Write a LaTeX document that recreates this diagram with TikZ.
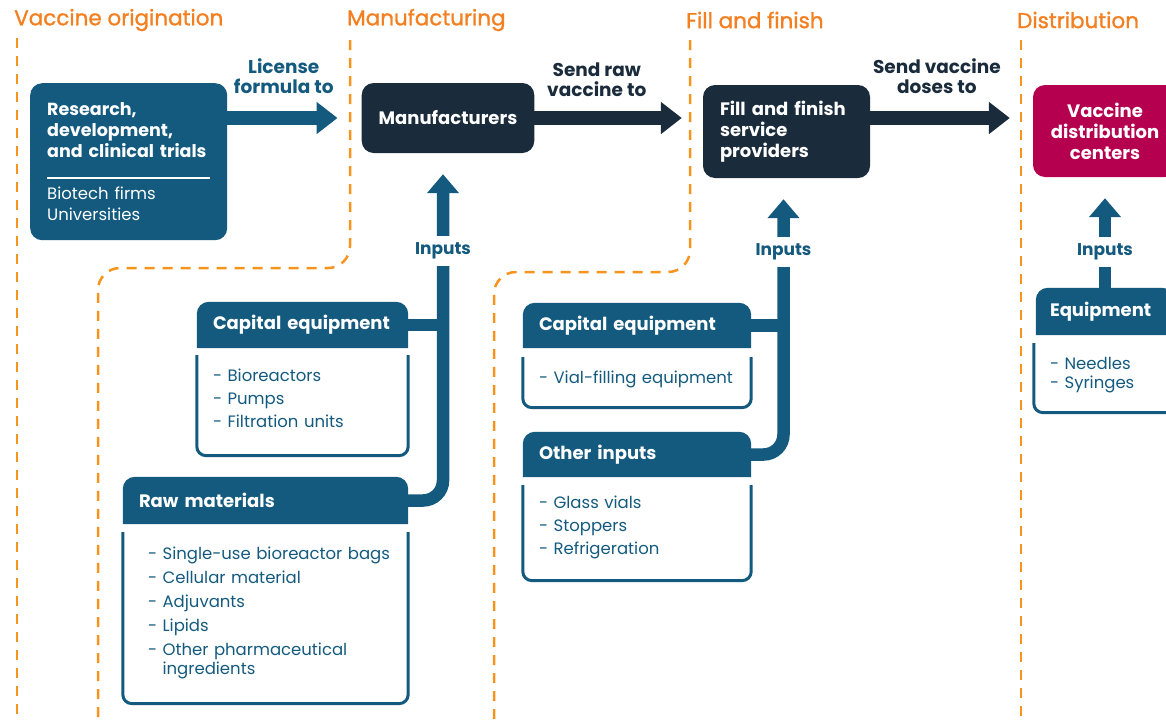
\documentclass[tikz,border=0pt]{standalone}
\usepackage{fontspec}
\setmainfont{Poppins}
\newfontfamily\stagefont[FakeBold=1.2]{Poppins}
\usetikzlibrary{arrows.meta,positioning}
\pgfdeclarelayer{background}
\pgfsetlayers{background,main}

\definecolor{vblue}{HTML}{145A7E}
\definecolor{vnavy}{HTML}{1A2B3B}
\definecolor{vred}{HTML}{B5004F}
\definecolor{vorange}{HTML}{F7941D}
\definecolor{vtitle}{HTML}{F47F20}

% extra depth on the last item line, lifts the list inside its box
\newcommand{\lift}[1]{\rule[-#1]{0pt}{#1}}

\tikzset{
  stage/.style    = {font=\stagefont\fontsize{21.5}{25}\selectfont, text=vtitle, anchor=west, inner sep=0pt},
  divider/.style  = {vorange, line width=2.5pt, dash pattern=on 10pt off 8pt, rounded corners=22pt},
  basic/.style    = {rounded corners=12pt, text=white, inner xsep=17pt, inner ysep=0pt,
                     font=\fontsize{18}{21}\selectfont\bfseries},
  origin/.style   = {basic, fill=vblue, align=left},
  actor/.style    = {basic, fill=vnavy},
  dest/.style     = {basic, fill=vred, align=center},
  inhead/.style   = {text=white, inner xsep=16pt, inner ysep=0pt, align=left, minimum height=46pt,
                     font=\fontsize{18}{21}\selectfont\bfseries},
  inbody/.style   = {text=vblue, inner xsep=16pt, inner ysep=0pt, align=left,
                     font=\fontsize{16.5}{23}\selectfont},
  outline/.style  = {vblue, line width=3pt, rounded corners=9pt},
  flowlabel/.style= {align=center, inner sep=0pt, font=\fontsize{18.5}{20}\selectfont\bfseries},
  inlabel/.style  = {fill=white, text=vblue, inner xsep=4pt, inner ysep=7pt,
                     font=\fontsize{17}{18}\selectfont\bfseries},
  flow/.style     = {line width=14pt, -{Triangle[width=31pt,length=21pt]}},
  feed/.style     = {vblue, line width=12.5pt, -{Triangle[width=31pt,length=19pt]},
                     shorten >=21pt, rounded corners=20pt},
  branch/.style   = {vblue, line width=12.5pt}
}

\begin{document}
\begin{tikzpicture}[x=1pt, y=-1pt]
\useasboundingbox (0,0) rectangle (1166,721);
\clip (0,0) rectangle (1166,721);

% dashed stage borders
\draw[divider] (17,38) -- (17,721);
\draw[divider] (350,40) -- (350,268) -- (98,268) -- (98,721);
\draw[divider] (690,40) -- (690,272) -- (494,272) -- (494,721);
\draw[divider] (1021,40) -- (1021,721);

% stage titles
\node[stage] (t1) at (14,20)   {Vaccine origination};
\node[stage] (t2) at (347,20)  {Manufacturing};
\node[stage] (t3) at (686,20)  {Fill and finish};
\node[stage] (t4) at (1017,20) {Distribution};

% main chain
\node[origin, anchor=north west, minimum width=193pt, minimum height=157pt, text width=163pt,
      font=\fontsize{17.5}{21}\selectfont\bfseries]
  (research) at (30,83) {Research,\\development,\\and clinical trials\\\rule{163pt}{1.6pt}\\\mdseries\fontsize{16.5}{21}\selectfont Biotech firms\\Universities};
\node[actor, minimum width=168pt, minimum height=70pt] (manuf) at (448,118) {Manufacturers};
\node[actor, minimum width=167pt, minimum height=93pt, text width=133pt, align=left]
  (fill) at (786.5,131.5) {Fill and finish\\service\\providers};
\node[dest, minimum width=144pt, minimum height=92pt] (distrib) at (1105,131) {Vaccine\\distribution\\centers};

\draw[flow, vblue, shorten >=24pt] (research.east |- manuf.west) -- (manuf.west)
  node[flowlabel, text=vblue, pos=.42, above=17pt] {License\\formula to};
\draw[flow, vnavy, shorten >=21pt] (manuf.east) -- (manuf.east -| fill.west)
  node[flowlabel, text=vnavy, pos=.37, above=14pt] {Send raw\\vaccine to};
\draw[flow, vnavy, shorten >=23pt] (fill.east |- manuf.east) -- (distrib.west |- manuf.east)
  node[flowlabel, text=vnavy, pos=.41, above=17pt] {Send vaccine\\doses to};

% manufacturing inputs
\node[inhead, minimum width=211pt, text width=179pt] (capM) at (302.5,325) {Capital equipment};
\node[inbody, below=7pt of capM, minimum width=211pt, text width=179pt, minimum height=100pt]
  (capMbody) {- Bioreactors\\- Pumps\\- Filtration units\lift{14pt}};
\node[inhead, minimum width=285pt, text width=253pt, minimum height=47pt] (rawM) at (265.5,500.5) {Raw materials};
\node[inbody, below=8pt of rawM, minimum width=285pt, inner xsep=25pt, text width=235pt, minimum height=171pt,
      font=\fontsize{16.5}{24}\selectfont]
  (rawMbody) {\mbox{- Single-use bioreactor bags}\\- Cellular material\\- Adjuvants\\- Lipids\\- Other pharmaceutical\\[-5pt]\hphantom{- }ingredients\lift{15pt}};

\coordinate (mshaft) at ([xshift=-5pt]manuf.south);
\draw[feed] (rawM.east) -| (mshaft);
\draw[branch] (capM.east) -- (capM.east -| mshaft);
\node[inlabel] (minputs) at ([yshift=-98pt]mshaft) {Inputs};

% fill and finish inputs
\node[inhead, minimum width=228pt, text width=196pt, minimum height=45pt] (capF) at (637,325.5) {Capital equipment};
\node[inbody, below=9pt of capF, minimum width=228pt, text width=196pt, minimum height=50pt]
  (capFbody) {\mbox{- Vial-filling equipment}\lift{11pt}};
\node[inhead, minimum width=228pt, text width=196pt, minimum height=45pt] (other) at (637,454.5) {Other inputs};
\node[inbody, below=8pt of other, minimum width=228pt, text width=196pt, minimum height=95pt]
  (otherbody) {- Glass vials\\- Stoppers\\- Refrigeration\lift{16pt}};

\coordinate (fshaft) at ([xshift=-3pt]fill.south);
\draw[feed] (other.east) -| (fshaft);
\draw[branch] (capF.east) -- (capF.east -| fshaft);
\node[inlabel] (finputs) at ([yshift=-74pt]fshaft) {Inputs};

% distribution inputs
\node[inhead, minimum width=138pt, inner xsep=14pt, text width=110pt, minimum height=47pt] (equip) at (1105,311.5) {Equipment};
\node[inbody, below=8pt of equip, minimum width=138pt, text width=110pt, minimum height=69pt]
  (equipbody) {- Needles\\[-4pt]- Syringes\lift{11pt}};

\draw[feed] (equip.north) -- (distrib.south);
\node[inlabel] (dinputs) at ([yshift=-75pt]distrib.south) {Inputs};

% open boxes under the input headers
\foreach \b in {capMbody,rawMbody,capFbody,otherbody,equipbody}
  \draw[outline] (\b.north west) -- (\b.south west) -- (\b.south east) -- (\b.north east);

\begin{pgfonlayer}{background}
\foreach \h in {capM,rawM,capF,other,equip}
  \fill[vblue] (\h.south west) [rounded corners=12pt] -- (\h.north west) -- (\h.north east)
    [sharp corners] -- (\h.south east) -- cycle;
\end{pgfonlayer}
\end{tikzpicture}
\end{document}
